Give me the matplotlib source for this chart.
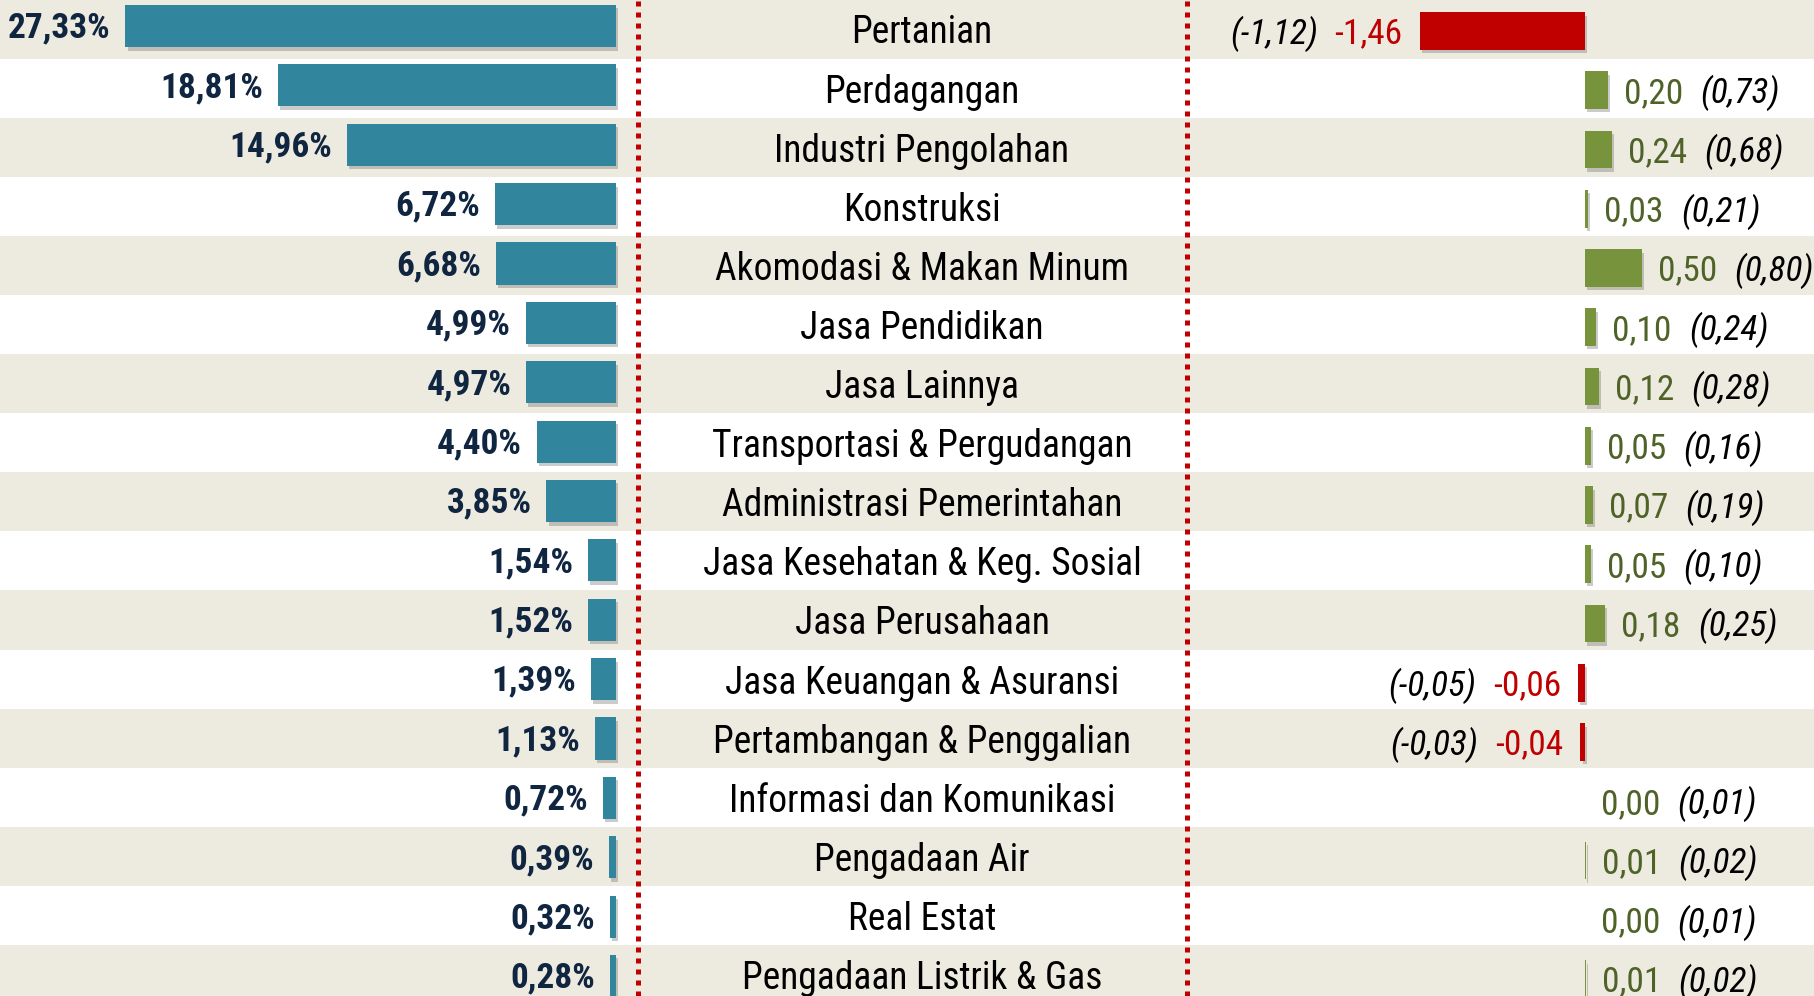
import matplotlib
matplotlib.use("Agg")
import matplotlib.pyplot as plt
import matplotlib.patheffects as pe
from matplotlib import font_manager

# Data
sectors = [
    "Pertanian",
    "Perdagangan",
    "Industri Pengolahan",
    "Konstruksi",
    "Akomodasi & Makan Minum",
    "Jasa Pendidikan",
    "Jasa Lainnya",
    "Transportasi & Pergudangan",
    "Administrasi Pemerintahan",
    "Jasa Kesehatan & Keg. Sosial",
    "Jasa Perusahaan",
    "Jasa Keuangan & Asuransi",
    "Pertambangan & Penggalian",
    "Informasi dan Komunikasi",
    "Pengadaan Air",
    "Real Estat",
    "Pengadaan Listrik & Gas",
]
shares = [27.33, 18.81, 14.96, 6.72, 6.68, 4.99, 4.97, 4.40, 3.85,
          1.54, 1.52, 1.39, 1.13, 0.72, 0.39, 0.32, 0.28]
growth = [-1.46, 0.20, 0.24, 0.03, 0.50, 0.10, 0.12, 0.05, 0.07,
          0.05, 0.18, -0.06, -0.04, 0.00, 0.01, 0.00, 0.01]
growth_prev = [-1.12, 0.73, 0.68, 0.21, 0.80, 0.24, 0.28, 0.16, 0.19,
               0.10, 0.25, -0.05, -0.03, 0.01, 0.02, 0.01, 0.02]

# Layout (pixels)
W, H, DPI = 1814, 996, 100
share_zero, share_scale = 615.5, 17.93      # px, px per %
growth_zero, growth_scale = 1585.0, 113.2   # px, px per unit
divider_x = [637.7, 1187.0]
label_center_x = 922.0
fs_name, fs_val = 27, 25.5

# Colours
band_color = "#EDEBE0"
share_color = "#31859C"
share_text = "#10253F"
neg_color = "#C00000"
pos_color = "#77933C"
pos_text = "#4F6228"

# Font: prefer a narrow face
installed = {f.name for f in font_manager.fontManager.ttflist}
narrow = next((n for n in ["Liberation Sans Narrow", "Arial Narrow",
                           "Roboto Condensed", "DejaVu Sans"] if n in installed),
              "DejaVu Sans")
plt.rcParams["font.family"] = [narrow, "DejaVu Sans"]
plt.rcParams["font.stretch"] = "condensed"


def cap_shift(fs):
    # pixel offset that puts the digit centre on the anchor point
    return -0.716 * fs * DPI / 72 / 2


def row_ylim(first_center, pitch):
    return ((H - first_center) / pitch, -first_center / pitch)


fig = plt.figure(figsize=(W / DPI, H / DPI), dpi=DPI)
fig.patch.set_facecolor("white")

# Background bands, dividers and sector names
ax_bg = fig.add_axes([0, 0, 1, 1])
ax_bg.set_xlim(0, W)
ax_bg.set_ylim(*row_ylim(29.05, 59.1))
ax_bg.axis("off")
for i in range(len(sectors)):
    if i % 2 == 0:
        ax_bg.axhspan(i - 0.5, i + 0.5, color=band_color, lw=0, zorder=0)
for x in divider_x:
    ax_bg.axvline(x, color=neg_color, lw=3.6, linestyle=(0, (1, 1.2)),
                  dash_capstyle="butt", zorder=2)
for i, name in enumerate(sectors):
    ax_bg.annotate(name, xy=(label_center_x, i), xytext=(0, cap_shift(fs_name) - 1),
                   textcoords="offset pixels", ha="center", va="baseline",
                   fontsize=fs_name, color="black")

shadow = [pe.SimplePatchShadow(offset=(1.5, -2.5), shadow_rgbFace="#555555",
                               alpha=0.3), pe.Normal()]

# Left: share bars
ax_l = fig.add_axes([0, 0, 1, 1], facecolor="none")
ax_l.set_xlim(share_zero / share_scale, -(W - share_zero) / share_scale)
ax_l.set_ylim(*row_ylim(26.0, 59.375))
ax_l.axis("off")
rows = list(range(len(sectors)))
bars = ax_l.barh(rows, shares, height=0.71, color=share_color, zorder=3)
for b in bars:
    b.set_path_effects(shadow)
for i, v in enumerate(shares):
    ax_l.annotate(f"{v:.2f}%".replace(".", ","), xy=(v, i),
                  xytext=(-15, cap_shift(fs_val) + 1), textcoords="offset pixels",
                  ha="right", va="baseline", fontsize=fs_val, fontweight="bold",
                  color=share_text)

# Right: growth bars
ax_r = fig.add_axes([0, 0, 1, 1], facecolor="none")
ax_r.set_xlim(-growth_zero / growth_scale, (W - growth_zero) / growth_scale)
ax_r.set_ylim(*row_ylim(31.0, 59.25))
ax_r.axis("off")
colors = [neg_color if g < 0 else pos_color for g in growth]
gbars = ax_r.barh(rows, growth, height=0.633, color=colors, zorder=3)
for b, g in zip(gbars, growth):
    if g != 0:
        b.set_path_effects(shadow)
for i, (g, gp) in enumerate(zip(growth, growth_prev)):
    val = f"{g:.2f}".replace(".", ",")
    prev = "(" + f"{gp:.2f}".replace(".", ",") + ")"
    if g < 0:
        t = ax_r.annotate(val, xy=(g, i), xytext=(-17, cap_shift(fs_val)),
                          textcoords="offset pixels", ha="right", va="baseline",
                          fontsize=fs_val, color=neg_color)
        ax_r.annotate(prev, xy=(0, i), xycoords=(t, "data"),
                      xytext=(-17, cap_shift(fs_val)), textcoords="offset pixels",
                      ha="right", va="baseline", fontsize=fs_val, style="italic",
                      color="black")
    else:
        t = ax_r.annotate(val, xy=(g, i), xytext=(16, cap_shift(fs_val)),
                          textcoords="offset pixels", ha="left", va="baseline",
                          fontsize=fs_val, color=pos_text)
        ax_r.annotate(prev, xy=(1, i), xycoords=(t, "data"),
                      xytext=(17, cap_shift(fs_val)), textcoords="offset pixels",
                      ha="left", va="baseline", fontsize=fs_val, style="italic",
                      color="black")

fig.savefig("out.png", dpi=DPI)
